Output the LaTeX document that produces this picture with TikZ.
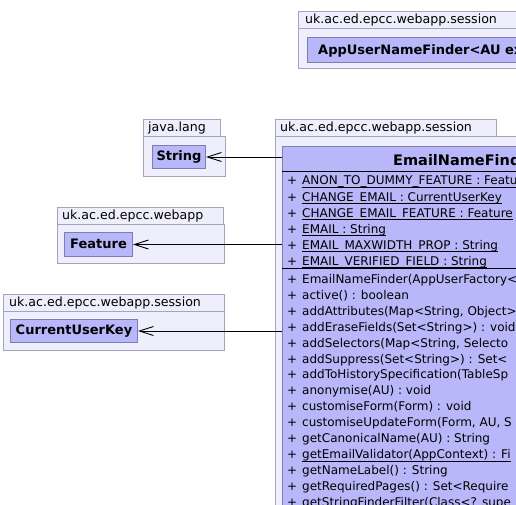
\documentclass[tikz,border=0pt]{standalone}
\usepackage{fontspec}
\setmainfont{DejaVu Sans}
\usetikzlibrary{arrows.meta}
\definecolor{pkgfill}{RGB}{238,238,252}
\definecolor{pkgdraw}{RGB}{165,165,185}
\definecolor{clsfill}{RGB}{183,183,250}
\definecolor{clsdraw}{RGB}{125,125,175}
\tikzset{
  pkg/.style={fill=pkgfill, draw=pkgdraw, line width=1pt},
  cls/.style={fill=clsfill, draw=clsdraw, line width=1pt, inner sep=0pt, anchor=north west,
              text height=9.5pt, text depth=2.5pt, font=\fontsize{13}{15}\selectfont\bfseries},
  pkgname/.style={anchor=base west, inner sep=0pt, font=\fontsize{12.6}{15}\selectfont},
  mem/.style={anchor=base west, inner sep=0pt, font=\fontsize{12}{14}\selectfont},
  uline/.style={line width=0.8pt},
  dep/.style={-{Straight Barb[length=14pt,width=9pt]}, line width=0.9pt},
}
\newcommand\vmember[4]{% name, baseline y, text, underline flag
  \node[mem] (#1v) at (287,#2) {+};
  \node[mem] (#1) at (302,#2) {#3};
  \ifnum#4=1 \draw[uline] ([yshift=-2.5pt]#1.base west) -- ([yshift=-2.5pt]#1.base east);\fi
}
\begin{document}
\begin{tikzpicture}[x=1pt,y=-1pt]
\useasboundingbox (0,0) rectangle (516,505);
\clip (0,0) rectangle (516,505);

% top package
\draw[pkg] (298,28.5) rectangle (560,69);
\draw[pkg] (298,11.5) rectangle (560,28.5);
\node[pkgname] (ptop) at (305,24) {uk.ac.ed.epcc.webapp.session};
\node[cls, minimum width=300pt, minimum height=25pt] (aunf) at (307,37) {};
\node[anchor=base west, inner sep=0pt, font=\fontsize{13}{15}\selectfont\bfseries] (aunfname) at (318,54.5) {AppUserNameFinder<AU ex};

% java.lang
\draw[pkg] (143,137) rectangle (225,176);
\draw[pkg] (143,120) rectangle (220,137);
\node[pkgname] (pjava) at (148,132) {java.lang};
\node[cls, minimum width=53pt, minimum height=23pt] (string) at (152,145) {String};

% uk.ac.ed.epcc.webapp
\draw[pkg] (57,224) rectangle (224,263);
\draw[pkg] (57,207) rectangle (223,224);
\node[pkgname] (pweb) at (62,219) {uk.ac.ed.epcc.webapp};
\node[cls, minimum width=68pt, minimum height=24pt] (feature) at (64,232) {Feature};

% uk.ac.ed.epcc.webapp.session (left)
\draw[pkg] (3,311.5) rectangle (224,350);
\draw[pkg] (3,294.5) rectangle (224,311.5);
\node[pkgname] (psess) at (9,306.5) {uk.ac.ed.epcc.webapp.session};
\node[cls, minimum width=127pt, minimum height=23pt] (cuk) at (10,319) {CurrentUserKey};

% main package
\draw[pkg] (275,136.5) rectangle (560,560);
\draw[pkg] (275,119.5) rectangle (496,136.5);
\node[pkgname] (pmain) at (280,131.5) {uk.ac.ed.epcc.webapp.session};
\node[cls, minimum width=371pt, minimum height=460pt] (emf) at (282,146) {};
\node[anchor=base west, inner sep=0pt, font=\fontsize{14.5}{17}\selectfont\bfseries] (emfname) at (393,165) {EmailNameFind};
\draw[line width=0.8pt] (282,171) -- (653,171);

\vmember{a1}{185}{ANON\_TO\_DUMMY\_FEATURE : Feature}{1}
\vmember{a2}{201}{CHANGE\_EMAIL : CurrentUserKey}{1}
\vmember{a3}{217}{CHANGE\_EMAIL\_FEATURE : Feature}{1}
\vmember{a4}{233}{EMAIL : String}{1}
\vmember{a5}{249}{EMAIL\_MAXWIDTH\_PROP : String}{1}
\vmember{a6}{265}{EMAIL\_VERIFIED\_FIELD : String}{1}

\draw[line width=1.8pt] (282,268.5) -- (653,268.5);

\vmember{m0}{283.5}{EmailNameFinder(AppUserFactory<}{0}
\vmember{m1}{299.4}{active() : boolean}{0}
\vmember{m2}{315.3}{addAttributes(Map<String, Object>}{0}
\vmember{m3}{331.2}{addEraseFields(Set<String>) : void}{0}
\vmember{m4}{347.1}{addSelectors(Map<String, Selecto}{0}
\vmember{m5}{363.0}{addSuppress(Set<String>) : Set<}{0}
\vmember{m6}{378.9}{addToHistorySpecification(TableSp}{0}
\vmember{m7}{394.8}{anonymise(AU) : void}{0}
\vmember{m8}{410.7}{customiseForm(Form) : void}{0}
\vmember{m9}{426.6}{customiseUpdateForm(Form, AU, S}{0}
\vmember{m10}{442.5}{getCanonicalName(AU) : String}{0}
\vmember{m11}{458.4}{getEmailValidator(AppContext) : Fi}{1}
\vmember{m12}{474.3}{getNameLabel() : String}{0}
\vmember{m13}{490.2}{getRequiredPages() : Set<Require}{0}
\vmember{m14}{506.1}{getStringFinderFilter(Class<? supe}{0}

% dependencies
\draw[dep] (emf.west |- string.east) -- (string.east);
\draw[dep] (emf.west |- feature.east) -- (feature.east);
\draw[dep] (emf.west |- cuk.east) -- (cuk.east);
\end{tikzpicture}
\end{document}
